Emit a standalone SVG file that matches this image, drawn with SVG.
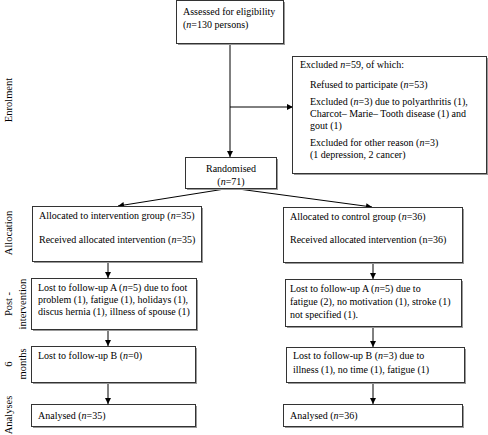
<svg xmlns="http://www.w3.org/2000/svg" width="488" height="435" viewBox="0 0 488 435">
<defs>
<marker id="ah" viewBox="0 0 10 10" refX="10" refY="5" markerWidth="6" markerHeight="6" orient="auto" markerUnits="userSpaceOnUse"><path d="M0,0 L10,5 L0,10 z" fill="#000"/></marker>
</defs>
<style>
text{font-family:"Liberation Serif","Times New Roman",serif;font-size:10px;fill:#000}
.i{font-style:italic}
.box{fill:#fff;stroke:#333;stroke-width:1}
.sh{fill:#999;stroke:none}
.c{fill:none;stroke:#000;stroke-width:1;marker-end:url(#ah)}
.ln{fill:none;stroke:#000;stroke-width:1}
.lab{font-size:10.5px}
</style>
<rect width="488" height="435" fill="#fff"/>
<g id="stage-labels">
<text class="lab" transform="translate(12,100) rotate(-90)" text-anchor="middle">Enrolment</text>
<text class="lab" transform="translate(12,233) rotate(-90)" text-anchor="middle">Allocation</text>
<text class="lab" transform="translate(12,304) rotate(-90)" text-anchor="middle">Post -</text>
<text class="lab" transform="translate(26,304) rotate(-90)" text-anchor="middle">intervention</text>
<text class="lab" transform="translate(12,364) rotate(-90)" text-anchor="middle">6</text>
<text class="lab" transform="translate(26,364) rotate(-90)" text-anchor="middle">months</text>
<text class="lab" transform="translate(12,415) rotate(-90)" text-anchor="middle">Analyses</text>
</g>
<g id="connectors">
<line class="ln" x1="230" y1="44" x2="230" y2="107"/>
<line class="c" x1="230" y1="107" x2="293" y2="107"/>
<line class="c" x1="230" y1="107" x2="230" y2="157"/>
<line class="c" x1="231" y1="188" x2="118" y2="206"/>
<line class="c" x1="231" y1="188" x2="372" y2="207"/>
<line class="c" x1="108" y1="262" x2="108" y2="278"/>
<line class="c" x1="108" y1="330" x2="108" y2="346"/>
<line class="c" x1="108" y1="383" x2="108" y2="404"/>
<line class="c" x1="373" y1="262" x2="373" y2="279"/>
<line class="c" x1="373" y1="327" x2="373" y2="347"/>
<line class="c" x1="373" y1="383" x2="373" y2="404"/>
</g>
<g id="assessed">
<rect class="sh" x="178" y="2" width="107" height="43"/>
<rect class="box" x="176.5" y="0.5" width="107" height="43"/>
<text x="183" y="15">Assessed for eligibility</text>
<text x="183" y="28">(<tspan class="i">n</tspan>=130 persons)</text>
</g>
<g id="excluded">
<rect class="sh" x="294" y="58" width="194" height="117"/>
<rect class="box" x="292.5" y="56.5" width="194" height="117"/>
<text x="300" y="68">Excluded <tspan class="i">n</tspan>=59, of which:</text>
<text x="310" y="88">Refused to participate (<tspan class="i">n</tspan>=53)</text>
<text x="310" y="105">Excluded (<tspan class="i">n</tspan>=3) due to polyarthritis (1),</text>
<text x="310" y="117">Charcot– Marie– Tooth disease (1) and</text>
<text x="310" y="129">gout (1)</text>
<text x="310" y="146">Excluded for other reason (<tspan class="i">n</tspan>=3)</text>
<text x="310" y="158">(1 depression, 2 cancer)</text>
</g>
<g id="randomised">
<rect class="sh" x="187" y="159" width="91" height="31"/>
<rect class="box" x="185.5" y="157.5" width="91" height="31"/>
<text x="231" y="172" text-anchor="middle">Randomised</text>
<text x="231" y="185" text-anchor="middle">(<tspan class="i">n</tspan>=71)</text>
</g>
<g id="alloc-intervention">
<rect class="sh" x="34" y="208" width="169" height="55"/>
<rect class="box" x="32.5" y="206.5" width="169" height="55"/>
<text x="39" y="219">Allocated to intervention group (<tspan class="i">n</tspan>=35)</text>
<text x="39" y="243">Received allocated intervention (<tspan class="i">n</tspan>=35)</text>
</g>
<g id="alloc-control">
<rect class="sh" x="285" y="209" width="179" height="55"/>
<rect class="box" x="283.5" y="207.5" width="179" height="55"/>
<text x="290" y="220">Allocated to control group (<tspan class="i">n</tspan>=36)</text>
<text x="290" y="243">Received allocated intervention (n=36)</text>
</g>
<g id="post-intervention">
<rect class="sh" x="33" y="280" width="165" height="51"/>
<rect class="box" x="31.5" y="278.5" width="165" height="51"/>
<text x="38" y="291">Lost to follow-up A (<tspan class="i">n</tspan>=5) due to foot</text>
<text x="38" y="303">problem (1), fatigue (1), holidays (1),</text>
<text x="38" y="315">discus hernia (1), illness of spouse (1)</text>
</g>
<g id="post-control">
<rect class="sh" x="287" y="281" width="176" height="47"/>
<rect class="box" x="285.5" y="279.5" width="176" height="47"/>
<text x="290" y="292">Lost to follow-up A (<tspan class="i">n</tspan>=5) due to</text>
<text x="290" y="305">fatigue (2), no motivation (1), stroke (1)</text>
<text x="290" y="318">not specified (1).</text>
</g>
<g id="six-intervention">
<rect class="sh" x="33" y="348" width="164" height="36"/>
<rect class="box" x="31.5" y="346.5" width="164" height="36"/>
<text x="38" y="359">Lost to follow-up B (<tspan class="i">n</tspan>=0)</text>
</g>
<g id="six-control">
<rect class="sh" x="288" y="349" width="178" height="35"/>
<rect class="box" x="286.5" y="347.5" width="178" height="35"/>
<text x="293" y="359">Lost to follow-up B (<tspan class="i">n</tspan>=3) due to</text>
<text x="293" y="373">illness (1), no time (1), fatigue (1)</text>
</g>
<g id="analysed-intervention">
<rect class="sh" x="33" y="406" width="164" height="22"/>
<rect class="box" x="31.5" y="404.5" width="164" height="22"/>
<text x="38" y="419">Analysed (<tspan class="i">n</tspan>=35)</text>
</g>
<g id="analysed-control">
<rect class="sh" x="285" y="406" width="179" height="22"/>
<rect class="box" x="283.5" y="404.5" width="179" height="22"/>
<text x="290" y="419">Analysed (<tspan class="i">n</tspan>=36)</text>
</g>
</svg>
